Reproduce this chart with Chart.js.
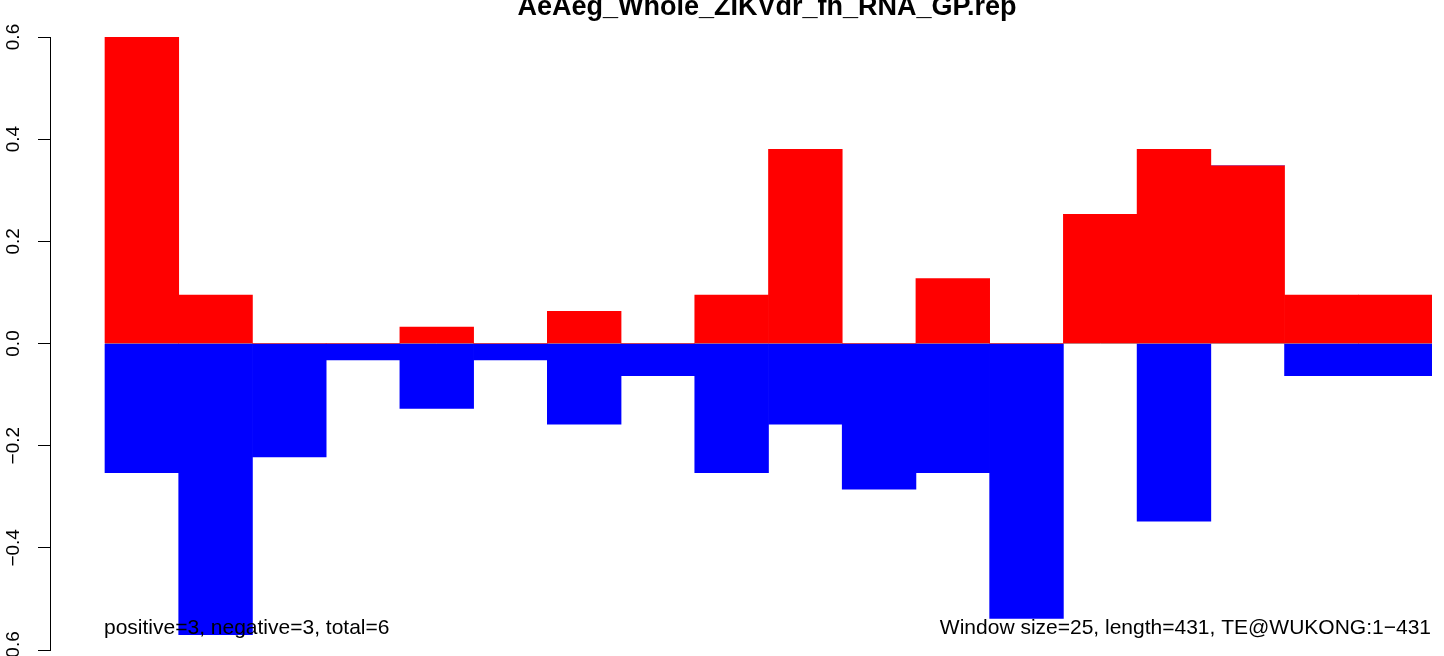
<!DOCTYPE html>
<html>
<head>
<meta charset="utf-8">
<script src="https://cdn.jsdelivr.net/npm/chart.js@4"></script>
<style>
  html, body { margin: 0; padding: 0; background: #fff; }
  canvas { display: block; }
</style>
</head>
<body>
<canvas id="c" width="1444" height="656"></canvas>
<script>
// ---- data ----
const chartTitle = "AeAeg_Whole_ZIKVdr_fh_RNA_GP.rep";
const windows = [1, 2, 3, 4, 5, 6, 7, 8, 9, 10, 11, 12, 13, 14, 15, 16, 17, 18];
const positiveValues = [0.6, 0.095, 0, 0, 0.032, 0, 0.063, 0, 0.095, 0.380, 0, 0.127, 0, 0.253, 0.380, 0.348, 0.095, 0.095];
const negativeValues = [-0.253, -0.570, -0.222, -0.032, -0.127, -0.032, -0.158, -0.063, -0.253, -0.158, -0.285, -0.253, -0.538, 0, -0.348, 0, -0.063, -0.063];
const yTickValues = [-0.6, -0.4, -0.2, 0.0, 0.2, 0.4, 0.6];
const leftNote = "positive=3, negative=3, total=6";
const rightNote = "Window size=25, length=431, TE@WUKONG:1\u2212431";

const FONT = '"Liberation Sans", Arial, Helvetica, sans-serif';

const textPlugin = {
  id: 'rtext',
  afterDraw(chart) {
    const ctx = chart.ctx;
    const y = chart.scales.y;
    const x = chart.scales.x;
    ctx.save();
    ctx.fillStyle = '#000';
    // title
    ctx.font = 'bold 27px ' + FONT;
    ctx.textAlign = 'center';
    ctx.textBaseline = 'alphabetic';
    ctx.fillText(chartTitle, 767, 15);
    // y tick labels, rotated like R (las = 0)
    ctx.font = '19px ' + FONT;
    yTickValues.forEach(v => {
      const py = y.getPixelForValue(v);
      const label = v.toFixed(1).replace('-', '\u2212');
      ctx.save();
      ctx.translate(19, py);
      ctx.rotate(-Math.PI / 2);
      ctx.textAlign = 'center';
      ctx.textBaseline = 'alphabetic';
      ctx.fillText(label, 0, 0);
      ctx.restore();
    });
    // bottom notes
    ctx.font = '21px ' + FONT;
    ctx.textAlign = 'left';
    ctx.fillText(leftNote, x.getPixelForValue(windows[0] - 0.5) - 1, 634);
    ctx.textAlign = 'right';
    ctx.fillText(rightNote, x.getPixelForValue(windows[windows.length - 1] + 0.5) - 1, 634);
    ctx.restore();
  }
};

new Chart(document.getElementById('c'), {
  data: {
    datasets: [
      {
        type: 'bar',
        data: windows.map((w, i) => ({ x: w, y: positiveValues[i] })),
        backgroundColor: '#ff0000',
        borderWidth: 0,
        barPercentage: 1,
        categoryPercentage: 1,
        order: 1
      },
      {
        type: 'bar',
        data: windows.map((w, i) => ({ x: w, y: negativeValues[i] })),
        backgroundColor: '#0000ff',
        borderWidth: 0,
        barPercentage: 1,
        categoryPercentage: 1,
        order: 1
      },
      {
        type: 'line',
        data: [{ x: windows[0] - 0.5, y: 0 }, { x: windows[windows.length - 1] + 0.5, y: 0 }],
        borderColor: '#aaaaaa',
        borderWidth: 1,
        pointRadius: 0,
        fill: false,
        order: 5
      }
    ]
  },
  options: {
    responsive: false,
    animation: false,
    devicePixelRatio: 1,
    layout: { padding: { top: 37, bottom: 6, left: 0, right: 12 } },
    plugins: { legend: { display: false }, tooltip: { enabled: false }, title: { display: false } },
    scales: {
      x: {
        type: 'linear',
        display: false,
        stacked: true,
        offset: false,
        grid: { offset: false },
        min: -0.246,
        max: 18.5
      },
      y: {
        stacked: true,
        min: -0.6,
        max: 0.6,
        afterFit(scale) { scale.width = 50; },
        afterBuildTicks(scale) { scale.ticks = yTickValues.map(v => ({ value: v })); },
        ticks: { display: false },
        grid: {
          drawOnChartArea: false,
          drawTicks: true,
          tickLength: 12,
          tickColor: '#000',
          tickWidth: 1,
          color: '#000'
        },
        border: { display: true, color: '#000', width: 1 }
      }
    }
  },
  plugins: [textPlugin]
});
</script>
</body>
</html>
